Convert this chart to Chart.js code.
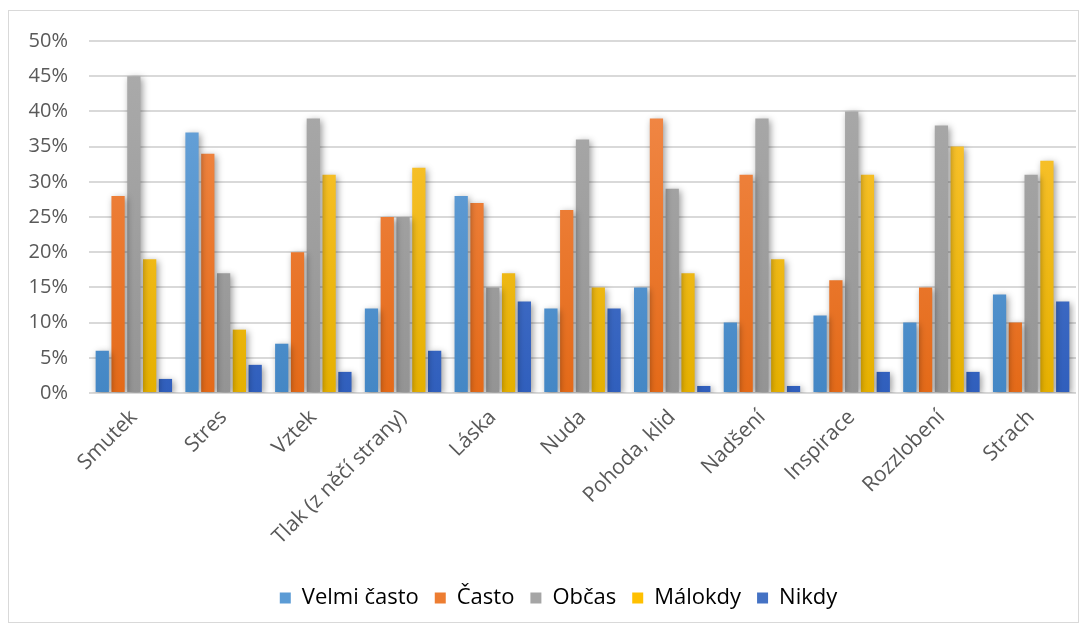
<!DOCTYPE html>
<html>
<head>
<meta charset="utf-8">
<script src="https://cdn.jsdelivr.net/npm/chart.js@4.4.1/dist/chart.umd.min.js"></script>
<style>
  html, body { margin: 0; padding: 0; background: #fff; }
  #wrap {
    position: absolute; left: 8px; top: 10px;
    width: 1069px; height: 611px;
    border: 1px solid #d9d9d9; background: #fff;
  }
  canvas { display: block; }
</style>
</head>
<body>
<div id="wrap"><canvas id="chart" width="1069" height="611"></canvas></div>
<script>
const categories = ['Smutek', 'Stres', 'Vztek', 'Tlak (z něčí strany)', 'Láska', 'Nuda', 'Pohoda, klid', 'Nadšení', 'Inspirace', 'Rozzlobení', 'Strach'];
const seriesNames = ['Velmi často', 'Často', 'Občas', 'Málokdy', 'Nikdy'];

// values in %
const velmiCasto = [6, 37, 7, 12, 28, 12, 15, 10, 11, 10, 14];
const casto      = [28, 34, 20, 25, 27, 26, 39, 31, 16, 15, 10];
const obcas      = [45, 17, 39, 25, 15, 36, 29, 39, 40, 38, 31];
const malokdy    = [19, 9, 31, 32, 17, 15, 17, 19, 31, 35, 33];
const nikdy      = [2, 4, 3, 6, 13, 12, 1, 1, 3, 3, 13];

const yTicks = [0, 5, 10, 15, 20, 25, 30, 35, 40, 45, 50];

// top / bottom colours of the gradients
const colorsTop    = ['#6ea7dc', '#f38d4f', '#acacac', '#ffc73b', '#5a81cf'];
const colorsBottom = ['#4487c5', '#e46a18', '#949494', '#e5b000', '#305fbd'];
const legendColors = ['#5b9bd5', '#ed7d31', '#a5a5a5', '#ffc000', '#4472c4'];

const allSeries = [velmiCasto, casto, obcas, malokdy, nikdy];

function gradientFor(i) {
  return (context) => {
    const chart = context.chart;
    const area = chart.chartArea;
    if (!area) return legendColors[i];
    const g = chart.ctx.createLinearGradient(0, area.top, 0, area.bottom);
    g.addColorStop(0, colorsTop[i]);
    g.addColorStop(1, colorsBottom[i]);
    return g;
  };
}

// soft shadow behind bars, like the excel look
const barShadow = {
  id: 'barShadow',
  beforeDatasetsDraw(chart) {
    const ctx = chart.ctx;
    ctx.save();
    ctx.shadowColor = 'rgba(0,0,0,0.4)';
    ctx.shadowBlur = 7;
    ctx.shadowOffsetX = 2;
    ctx.shadowOffsetY = 2;
  },
  afterDatasetsDraw(chart) {
    chart.ctx.restore();
  }
};

// legend in the original sits a bit right of centre
const legendShift = {
  id: 'legendShift',
  afterLayout(chart) {
    chart.legend.left += 16;
    chart.legend.right += 16;
  }
};

const font = "'Open Sans', 'DejaVu Sans', sans-serif";

new Chart(document.getElementById('chart'), {
  type: 'bar',
  data: {
    labels: categories,
    datasets: allSeries.map((vals, i) => ({
      label: seriesNames[i],
      data: vals,
      backgroundColor: gradientFor(i),
      borderWidth: 0,
      categoryPercentage: 0.88,
      barPercentage: 0.84
    }))
  },
  options: {
    responsive: false,
    animation: false,
    layout: { padding: { left: 0, right: 2, top: 14, bottom: 3 } },
    scales: {
      x: {
        grid: { display: false },
        border: { display: false },
        afterFit: (scale) => { scale.height = 178; },
        ticks: {
          color: '#595959',
          font: { family: font, size: 21 },
          minRotation: 45,
          maxRotation: 45,
          padding: 4
        }
      },
      y: {
        min: 0,
        max: 50,
        afterBuildTicks: (axis) => { axis.ticks = yTicks.map(v => ({ value: v })); },
        afterFit: (scale) => { scale.width = 80; scale.paddingTop = 30; },
        grid: { color: '#d9d9d9', lineWidth: 2, drawTicks: false },
        border: { display: false },
        ticks: {
          color: '#595959',
          font: { family: font, size: 20 },
          padding: 21,
          callback: (v) => v + '%'
        }
      }
    },
    plugins: {
      tooltip: { enabled: false },
      legend: {
        position: 'bottom',
        labels: {
          color: '#595959',
          font: { family: font, size: 22 },
          boxWidth: 11,
          boxHeight: 11,
          padding: 16,
          generateLabels: (chart) => seriesNames.map((name, i) => ({
            text: name,
            fillStyle: legendColors[i],
            strokeStyle: legendColors[i],
            lineWidth: 0,
            datasetIndex: i
          }))
        }
      }
    }
  },
  plugins: [barShadow, legendShift]
});
</script>
</body>
</html>
